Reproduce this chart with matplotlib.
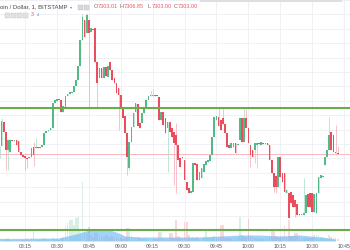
import matplotlib
matplotlib.use('Agg')
import matplotlib.pyplot as plt
from matplotlib.ticker import MultipleLocator
from matplotlib.patches import Rectangle

# one-minute candles, first one at 08:03
start_minute = 8 * 60 + 3
opens = [7301, 7307, 7319, 7314, 7305, 7304, 7310, 7309.5, 7310, 7309.5,
         7304, 7302.5, 7302, 7301, 7301, 7301.5, 7306.5, 7306, 7306.5, 7306,
         7306.5, 7307.5, 7313.5, 7314.5, 7315, 7316, 7328.5, 7329.5, 7330.5, 7330,
         7324, 7326, 7332, 7333, 7333.5, 7334, 7337, 7340, 7347, 7360,
         7370, 7363.5, 7370, 7364, 7365.5, 7366, 7349, 7341, 7346, 7341,
         7346.5, 7341.5, 7349, 7345, 7341, 7338.5, 7336, 7332.5, 7326, 7322,
         7313.5, 7296, 7309, 7316.5, 7324, 7328, 7318.5, 7318.5, 7323.5, 7326,
         7330, 7332, 7332, 7332.5, 7332.5, 7331.5, 7320, 7324, 7321, 7316,
         7319, 7316, 7314, 7312.5, 7307.5, 7301, 7301.5, 7300, 7289, 7286,
         7283.5, 7284, 7298.5, 7298, 7290, 7291, 7294, 7297.5, 7299, 7299.5,
         7302.5, 7311.5, 7320, 7321.5, 7320, 7321, 7318, 7313.5, 7307.5, 7306,
         7306.5, 7308.5, 7307.5, 7310, 7321, 7309, 7321, 7316, 7307.5, 7305,
         7305, 7307.5, 7308.5, 7307.5, 7308.5, 7308, 7308.5, 7307.5, 7300, 7293.5,
         7292, 7286.5, 7301.5, 7293.5, 7293.5, 7283.5, 7283.5, 7284, 7282.5, 7280,
         7278, 7273, 7272.5, 7272.5, 7273.5, 7283, 7283.5, 7283.5, 7274, 7273.5,
         7283.5, 7291, 7291.5, 7297.5, 7301.5, 7305, 7314, 7312.5, 7304, 7303.01]
closes = [7307, 7319.5, 7314, 7305, 7310, 7310, 7309.5, 7310, 7307.5, 7304,
          7302.5, 7301.5, 7301, 7300.5, 7301.5, 7306, 7302.5, 7306.5, 7306, 7306.5,
          7307.5, 7313.5, 7314.5, 7315, 7316, 7328.5, 7330, 7330.5, 7330, 7324,
          7327, 7332, 7333, 7334, 7334, 7337, 7340, 7347, 7360, 7371.5,
          7361.5, 7372.5, 7363.5, 7366, 7365, 7349, 7338.5, 7346, 7341, 7346.5,
          7342, 7347, 7345, 7340, 7338.5, 7333.5, 7332.5, 7326, 7321, 7313.5,
          7301.5, 7309, 7316.5, 7323.5, 7328.5, 7317, 7316, 7323.5, 7326, 7330,
          7332, 7332.5, 7332.5, 7332, 7332, 7320, 7324, 7317.5, 7313.5, 7319,
          7314, 7311.5, 7308.5, 7307.5, 7300, 7296.5, 7301, 7290, 7285, 7283.5,
          7284.5, 7298.5, 7297.5, 7290, 7294, 7296, 7298, 7299.5, 7300, 7302.5,
          7311.5, 7321.5, 7322, 7317, 7315, 7318, 7313.5, 7306.5, 7306, 7308.5,
          7308.5, 7303.5, 7308, 7321, 7309, 7321, 7316, 7308.5, 7302.5, 7301.5,
          7308.5, 7308.5, 7308, 7309, 7308, 7308.5, 7307.5, 7300, 7293.5, 7286.5,
          7286.5, 7301.5, 7291.5, 7289, 7284, 7285, 7271, 7278.5, 7276.5, 7276.5,
          7272.5, 7272.5, 7273, 7273.5, 7282.5, 7276.5, 7276.5, 7274, 7283, 7283.5,
          7291.5, 7292.5, 7292, 7301.5, 7305, 7312.5, 7305, 7304, 7303.5, 7303.0]
# long wicks: candle index -> extreme price
wick_highs = {1: 7321, 16: 7309, 17: 7311, 39: 7373, 41: 7373.5, 71: 7335,
              72: 7335.5, 83: 7318.5, 103: 7326, 105: 7326, 115: 7326, 116: 7325.5,
              143: 7291, 155: 7321.5, 158: 7317.5, 159: 7306.85}
wick_lows = {3: 7295, 4: 7295, 12: 7295, 13: 7296, 16: 7297, 42: 7326.5,
             46: 7326.5, 56: 7315, 60: 7292.5, 61: 7295, 79: 7294, 82: 7287.5,
             83: 7283.5, 118: 7296.5, 120: 7298.5, 121: 7296, 130: 7283.5,
             129: 7284, 139: 7271.5, 159: 7303.0}

volumes = [5, 3, 2, 2, 3, 1, 1, 2, 1, 2, 1, 1, 1, 2, 1, 3, 12, 2, 1, 2,
           2, 3, 2, 1, 2, 3, 2, 2, 1, 3, 4, 15, 18, 21, 21, 16, 23, 24, 12, 59,
           10, 8, 14, 6, 4, 8, 8, 5, 5, 4, 6, 5, 4, 5, 4, 4, 3, 3, 2, 3,
           13, 13, 5, 3, 3, 4, 3, 2, 3, 2, 2, 2, 2, 2, 2, 9, 9, 3, 3, 2,
           8, 8, 3, 21, 5, 4, 3, 19, 19, 6, 3, 4, 3, 4, 3, 3, 4, 11, 3, 3,
           4, 5, 3, 4, 16, 16, 3, 4, 3, 3, 3, 3, 4, 24, 6, 5, 4, 22, 5, 4,
           3, 3, 2, 3, 2, 2, 3, 4, 12, 12, 5, 4, 4, 5, 15, 4, 21, 5, 5, 8,
           8, 4, 3, 3, 4, 3, 3, 3, 6, 6, 6, 4, 4, 3, 3, 6, 4, 3, 3, 2]
vol_ma_idx = [0, 28, 32, 36, 39, 42, 47, 52, 56, 59, 66, 76, 85, 94, 104, 113,
              122, 132, 141, 151, 158]
vol_ma = [2.5, 3, 5, 7, 9, 11, 12, 11, 8, 5, 4, 4, 4, 4, 5, 6, 6, 5, 6, 4, 2]

time_labels = ['08:15', '08:30', '08:45', '09:00', '09:15', '09:30',
               '09:45', '10:00', '10:15', '10:30', '10:45']
resistance = 7326
support = 7265
last_price = 7303.0
symbol = 'oin / Dollar, 1, BITSTAMP'
ohlc_labels = ['O', 'H', 'L', 'C']
ohlc_values = ['7303.01', '7306.85', '7303.00', '7303.00']

up = '#53b987'
down = '#eb4d5c'
up_wick = '#a8dcc2'
down_wick = '#f4a9b1'
font = 'Liberation Sans'

W, H = 350, 250
fig = plt.figure(figsize=(W / 100, H / 100), dpi=100)
fig.patch.set_facecolor('white')

rect = [0, 9 / H, 1, 241 / H]
ax_v = fig.add_axes(rect)
ax = ax_v.twinx()
ax.set_zorder(ax_v.get_zorder() + 1)
ax.patch.set_visible(False)

x_left = 0.5 / 2.127
x_right = 350.5 / 2.127
n = len(closes)
xs = list(range(n))

# volume
vcol = [up if c >= o else down for o, c in zip(opens, closes)]
ax_v.bar(xs, volumes, width=0.8, color=vcol, alpha=0.22, linewidth=0)
ax_v.fill_between(vol_ma_idx, 0, vol_ma, color='#64b5f6', alpha=0.6, linewidth=0)
ax_v.set_ylim(0, 241)
ax_v.set_xlim(x_left, x_right)
ax_v.set_yticks([])
tick_pos = [int(t[:2]) * 60 + int(t[3:]) - start_minute for t in time_labels]
ax_v.set_xticks(tick_pos)
ax_v.set_xticklabels(time_labels, fontfamily=font)
ax_v.tick_params(axis='x', length=0, pad=2.0, labelsize=3.7, labelcolor='#50535e')
ax_v.grid(axis='x', color='#eceff3', linewidth=0.6)
ax_v.set_axisbelow(True)
for s in ax_v.spines.values():
    s.set_visible(False)

# price
ax.set_xlim(x_left, x_right)
ax.set_ylim(7259.5, 7380)
ax.yaxis.set_major_locator(MultipleLocator(7.2))
ax.grid(axis='y', color='#eceff3', linewidth=0.6)
ax.tick_params(axis='y', length=0, labelright=False, labelleft=False)
for s in ax.spines.values():
    s.set_visible(False)

ax.axhline(last_price, color='#f7b7bd', linewidth=0.7, zorder=1)

for i in range(n):
    o, c = opens[i], closes[i]
    hi = wick_highs.get(i, max(o, c))
    lo = wick_lows.get(i, min(o, c))
    body_col = up if c >= o else down
    wick_col = up_wick if c >= o else down_wick
    ax.vlines(i, lo, hi, color=wick_col, linewidth=0.5, zorder=2)
    ax.bar(i, max(abs(c - o), 0.6), bottom=min(o, c), width=0.8,
           color=body_col, linewidth=0, zorder=3)

ax.axhline(resistance, color='#6aab4c', linewidth=1.5, zorder=4)
ax.axhline(support, color='#6aab4c', linewidth=1.5, zorder=4)


# header
def px(x, y):
    return x / W, 1 - y / H


fig.text(*px(0, 7), symbol, fontsize=4.3, fontfamily=font, color='#4a4a4a',
         va='center', ha='left')
fig.text(*px(70, 7), '▾', fontsize=3.2, color='#888888', va='center', ha='left')
for bx in [78, 84]:
    fig.patches.append(Rectangle(px(bx, 9.5), 4.5 / W, 4.5 / H,
                                 transform=fig.transFigure, facecolor='#d8d8d8',
                                 edgecolor='#c4c4c4', linewidth=0.3))
for lab, val, x0 in zip(ohlc_labels, ohlc_values, [94, 120, 148, 174]):
    fig.text(*px(x0, 7), lab, fontsize=4.0, fontfamily=font, color='#6a6d78',
             va='center', ha='left')
    fig.text(*px(x0 + 3.3, 7), val, fontsize=4.0, fontfamily=font, color='#ef5865',
             va='center', ha='left')
for bx in [5, 11, 17, 23]:
    fig.patches.append(Rectangle(px(bx, 17.5), 4.5 / W, 4.5 / H,
                                 transform=fig.transFigure, facecolor='#e2e2e2',
                                 edgecolor='#c8c8c8', linewidth=0.3))
fig.text(*px(30.5, 15), '3', fontsize=3.8, fontfamily=font, color='#ef5865',
         va='center', ha='left')
fig.text(*px(37, 14.5), '4', fontsize=3.0, fontfamily=font, color='#3a8ee6',
         va='center', ha='left')
fig.patches.append(Rectangle(px(200, 1.8), 142 / W, 1.8 / H, transform=fig.transFigure,
                             facecolor='#dedede', linewidth=0))

fig.savefig('out.png', dpi=100)
